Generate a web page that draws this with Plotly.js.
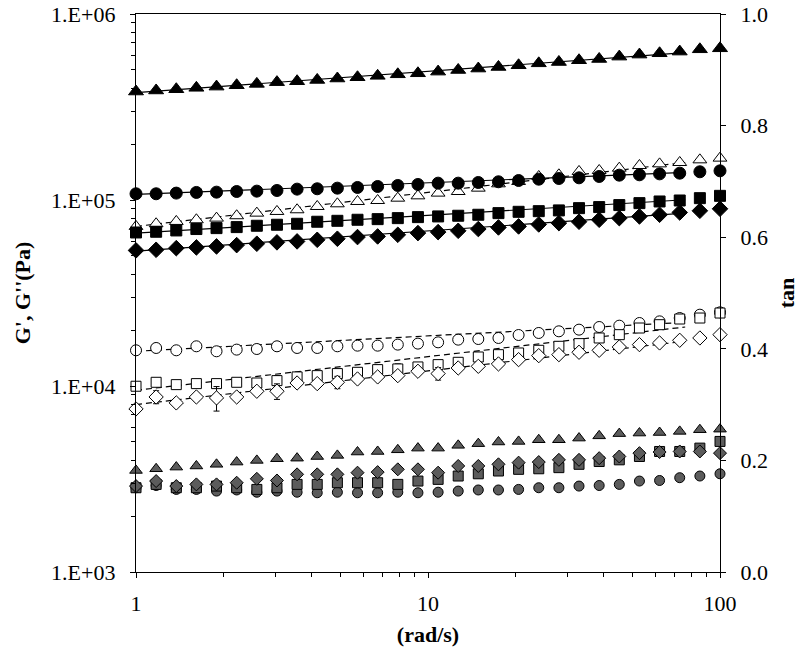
<!DOCTYPE html>
<html>
<head>
<meta charset="utf-8">
<script src="https://cdn.plot.ly/plotly-3.0.1.min.js"></script>
<style>
  html, body { margin: 0; padding: 0; background: #fff; }
  #chart { width: 799px; height: 647px; }
</style>
</head>
<body>
<div id="chart"></div>
<script>
// frequency sweep, angular frequency (rad/s)
const freq = [1, 1.172, 1.374, 1.610, 1.887, 2.212, 2.593, 3.039, 3.562, 4.175,
  4.894, 5.736, 6.723, 7.881, 9.237, 10.83, 12.69, 14.87, 17.43, 20.43,
  23.95, 28.07, 32.90, 38.57, 45.20, 52.98, 62.10, 72.79, 85.32, 100];

// G' (filled symbols), Pa
const gpTri = [3.83e5, 3.88e5, 3.94e5, 4.01e5, 4.07e5, 4.14e5, 4.21e5, 4.30e5, 4.35e5, 4.42e5,
  4.50e5, 4.57e5, 4.65e5, 4.74e5, 4.80e5, 4.90e5, 5.00e5, 5.09e5, 5.19e5, 5.30e5,
  5.43e5, 5.52e5, 5.64e5, 5.73e5, 5.90e5, 6.05e5, 6.15e5, 6.28e5, 6.46e5, 6.54e5];
const gpCirc = [1.080e5, 1.080e5, 1.089e5, 1.098e5, 1.102e5, 1.111e5, 1.116e5, 1.125e5, 1.144e5, 1.149e5,
  1.158e5, 1.168e5, 1.182e5, 1.197e5, 1.212e5, 1.232e5, 1.232e5, 1.242e5, 1.253e5, 1.273e5,
  1.294e5, 1.305e5, 1.316e5, 1.338e5, 1.360e5, 1.366e5, 1.382e5, 1.394e5, 1.418e5, 1.435e5];
const gpSq = [6.69e4, 6.75e4, 6.86e4, 6.98e4, 7.06e4, 7.15e4, 7.27e4, 7.36e4, 7.45e4, 7.64e4,
  7.73e4, 7.83e4, 7.89e4, 7.99e4, 8.09e4, 8.16e4, 8.23e4, 8.33e4, 8.50e4, 8.64e4,
  8.71e4, 8.79e4, 9.04e4, 9.16e4, 9.39e4, 9.62e4, 9.82e4, 9.94e4, 1.023e5, 1.053e5];
const gpDia = [5.36e4, 5.40e4, 5.51e4, 5.56e4, 5.63e4, 5.72e4, 5.82e4, 5.92e4, 5.99e4, 6.11e4,
  6.19e4, 6.32e4, 6.37e4, 6.50e4, 6.64e4, 6.72e4, 6.83e4, 6.98e4, 7.12e4, 7.21e4,
  7.39e4, 7.51e4, 7.64e4, 7.83e4, 7.99e4, 8.16e4, 8.33e4, 8.57e4, 8.75e4, 8.97e4];

// G'' (open symbols), Pa
const gppTri = [7.21e4, 7.45e4, 7.67e4, 7.83e4, 7.99e4, 8.23e4, 8.50e4, 8.68e4, 8.86e4, 9.23e4,
  9.54e4, 9.82e4, 9.94e4, 1.023e5, 1.053e5, 1.089e5, 1.111e5, 1.158e5, 1.222e5, 1.258e5,
  1.338e5, 1.366e5, 1.424e5, 1.441e5, 1.483e5, 1.533e5, 1.564e5, 1.591e5, 1.644e5, 1.679e5];
const gppCirc = [1.556e4, 1.601e4, 1.556e4, 1.635e4, 1.537e4, 1.569e4, 1.581e4, 1.635e4, 1.601e4, 1.601e4,
  1.635e4, 1.648e4, 1.648e4, 1.669e4, 1.690e4, 1.717e4, 1.775e4, 1.789e4, 1.812e4, 1.880e4,
  1.928e4, 1.968e4, 2.009e4, 2.076e4, 2.110e4, 2.181e4, 2.226e4, 2.320e4, 2.418e4, 2.489e4];
const gppSq = [9.97e3, 1.047e4, 1.017e4, 1.030e4, 1.030e4, 1.047e4, 1.038e4, 1.069e4, 1.119e4, 1.137e4,
  1.166e4, 1.185e4, 1.225e4, 1.235e4, 1.266e4, 1.303e4, 1.341e4, 1.432e4, 1.474e4, 1.505e4,
  1.556e4, 1.635e4, 1.690e4, 1.812e4, 1.888e4, 2.050e4, 2.136e4, 2.292e4, 2.320e4, 2.468e4];
const gppDia = [7.53e3, 8.73e3, 8.11e3, 8.73e3, 8.63e3, 8.73e3, 9.37e3, 9.37e3, 1.038e4, 1.030e4,
  1.047e4, 1.091e4, 1.119e4, 1.137e4, 1.200e4, 1.166e4, 1.250e4, 1.276e4, 1.314e4, 1.386e4,
  1.456e4, 1.474e4, 1.518e4, 1.556e4, 1.621e4, 1.669e4, 1.704e4, 1.761e4, 1.812e4, 1.888e4];

// error bars on G''
const gppCircErr = [300, 500, 300, 600, 300, 300, 300, 400, 400, 300, 300, 300, 300, 300, 300,
  300, 300, 300, 300, 400, 300, 400, 400, 500, 600, 500, 600, 700, 500, 400];
const gppSqErr = [300, 400, 300, 400, 400, 400, 300, 700, 500, 400, 500, 600, 700, 800, 600,
  500, 600, 700, 600, 600, 500, 700, 800, 600, 900, 1100, 900, 800, 700, 500];
const gppDiaErr = [300, 700, 300, 400, 1300, 300, 400, 900, 400, 500, 800, 500, 400, 500, 400,
  900, 400, 400, 500, 400, 400, 400, 500, 400, 400, 400, 400, 400, 400, 400];

// tan delta (hatched symbols), right axis
const tanTri = [0.182, 0.185, 0.188, 0.190, 0.193, 0.197, 0.200, 0.203, 0.204, 0.207,
  0.209, 0.215, 0.216, 0.219, 0.222, 0.222, 0.227, 0.230, 0.233, 0.234,
  0.237, 0.237, 0.240, 0.244, 0.248, 0.249, 0.250, 0.252, 0.255, 0.256];
const tanCirc = [0.151, 0.155, 0.148, 0.148, 0.145, 0.147, 0.143, 0.145, 0.143, 0.142,
  0.143, 0.142, 0.142, 0.143, 0.142, 0.143, 0.145, 0.147, 0.147, 0.148,
  0.151, 0.151, 0.154, 0.155, 0.157, 0.163, 0.164, 0.169, 0.172, 0.176];
const tanSq = [0.151, 0.157, 0.151, 0.151, 0.154, 0.151, 0.148, 0.151, 0.157, 0.157,
  0.160, 0.160, 0.160, 0.157, 0.163, 0.166, 0.172, 0.176, 0.181, 0.184,
  0.185, 0.187, 0.193, 0.198, 0.201, 0.207, 0.216, 0.216, 0.222, 0.234];
const tanDia = [0.154, 0.163, 0.154, 0.157, 0.157, 0.160, 0.167, 0.164, 0.175, 0.175,
  0.175, 0.178, 0.179, 0.184, 0.184, 0.178, 0.190, 0.190, 0.193, 0.196,
  0.197, 0.201, 0.201, 0.204, 0.207, 0.213, 0.215, 0.216, 0.216, 0.213];

// power-law fit lines, drawn over the first part of the sweep
const fitX = [1, 76];
const fitGpTri = [3.78e5, 6.20e5];
const fitGpCirc = [1.071e5, 1.406e5];
const fitGpSq = [6.64e4, 1.003e5];
const fitGpDia = [5.31e4, 8.50e4];
const fitGppTri = [7.21e4, 1.591e5];
const fitGppCirc = [1.537e4, 2.199e4];
const fitGppSq = [9.48e3, 2.076e4];
const fitGppDia = [7.95e3, 1.739e4];

const FONT = "Liberation Serif, Times New Roman, serif";
const HATCH = "#5c5c5c";

function fitLine(y, dash) {
  return {
    x: fitX, y: y, type: "scatter", mode: "lines",
    line: { color: "#000", width: 1.2, dash: dash },
    hoverinfo: "skip",
  };
}

function points(y, symbol, size, fill, yaxis, err) {
  const t = {
    x: freq, y: y, type: "scatter", mode: "markers", yaxis: yaxis || "y",
    cliponaxis: false,
    marker: { symbol: symbol, size: size, color: fill, line: { color: "#000", width: 1 } },
  };
  if (err) {
    t.error_y = { type: "data", array: err, visible: true, color: "#000", thickness: 1, width: 3 };
  }
  return t;
}

const traces = [
  fitLine(fitGpTri, "solid"),
  fitLine(fitGpCirc, "solid"),
  fitLine(fitGpSq, "solid"),
  fitLine(fitGpDia, "solid"),
  fitLine(fitGppTri, "6px,4px"),
  fitLine(fitGppCirc, "6px,4px"),
  fitLine(fitGppSq, "6px,4px"),
  fitLine(fitGppDia, "6px,4px"),
  points(gppTri, "triangle-up", 12, "#fff"),
  points(gpTri, "triangle-up", 13, "#000"),
  points(gpCirc, "circle", 12, "#000"),
  points(gpSq, "square", 11, "#000"),
  points(gpDia, "diamond", 12, "#000"),
  points(gppCirc, "circle", 11, "#fff", "y", gppCircErr),
  points(gppSq, "square", 10, "#fff", "y", gppSqErr),
  points(gppDia, "diamond", 11, "#fff", "y", gppDiaErr),
  points(tanTri, "triangle-up", 11, HATCH, "y2"),
  points(tanCirc, "circle", 10, HATCH, "y2"),
  points(tanSq, "square", 10, HATCH, "y2"),
  points(tanDia, "diamond", 10, HATCH, "y2"),
];

const minorX = [];
for (const dec of [1, 10]) for (let d = 2; d <= 9; d++) minorX.push(d * dec);
const minorY = [];
for (const dec of [1e3, 1e4, 1e5]) for (let d = 2; d <= 9; d++) minorY.push(d * dec);

const axisBase = {
  showline: true, linecolor: "#000", linewidth: 1.2,
  showgrid: false, zeroline: false,
  ticks: "outside", ticklen: 5, tickwidth: 1, tickcolor: "#000",
  tickfont: { family: FONT, size: 22, color: "#000" },
};

const layout = {
  width: 799, height: 647,
  margin: { l: 136, r: 79, t: 14, b: 75 },
  paper_bgcolor: "#fff", plot_bgcolor: "#fff",
  showlegend: false,
  font: { family: FONT, color: "#000" },
  xaxis: Object.assign({}, axisBase, {
    type: "log", range: [0, 2], mirror: true,
    tickmode: "array", tickvals: [1, 10, 100], ticktext: ["1", "10", "100"],
    minor: { tickmode: "array", tickvals: minorX, ticks: "outside", ticklen: 4, tickcolor: "#000" },
    ticklabelstandoff: 6,
    title: { text: "<b>(rad/s)</b>", font: { family: FONT, size: 22 }, standoff: 12 },
  }),
  yaxis: Object.assign({}, axisBase, {
    type: "log", range: [3, 6],
    tickmode: "array", tickvals: [1e3, 1e4, 1e5, 1e6],
    ticktext: ["1.E+03", "1.E+04", "1.E+05", "1.E+06"],
    minor: { tickmode: "array", tickvals: minorY, ticks: "outside", ticklen: 4, tickcolor: "#000" },
    ticklabelstandoff: 10,
    title: { text: "<b>G', G''(Pa)</b>", font: { family: FONT, size: 22 }, standoff: 14 },
  }),
  yaxis2: Object.assign({}, axisBase, {
    overlaying: "y", side: "right", anchor: "x",
    range: [0, 1], dtick: 0.2, tick0: 0, tickformat: ".1f",
    ticklabelstandoff: 10,
    title: { text: "<b>tan</b>", font: { family: FONT, size: 22 }, standoff: 12 },
  }),
};

Plotly.newPlot("chart", traces, layout, { staticPlot: true, displayModeBar: false });
</script>
</body>
</html>
